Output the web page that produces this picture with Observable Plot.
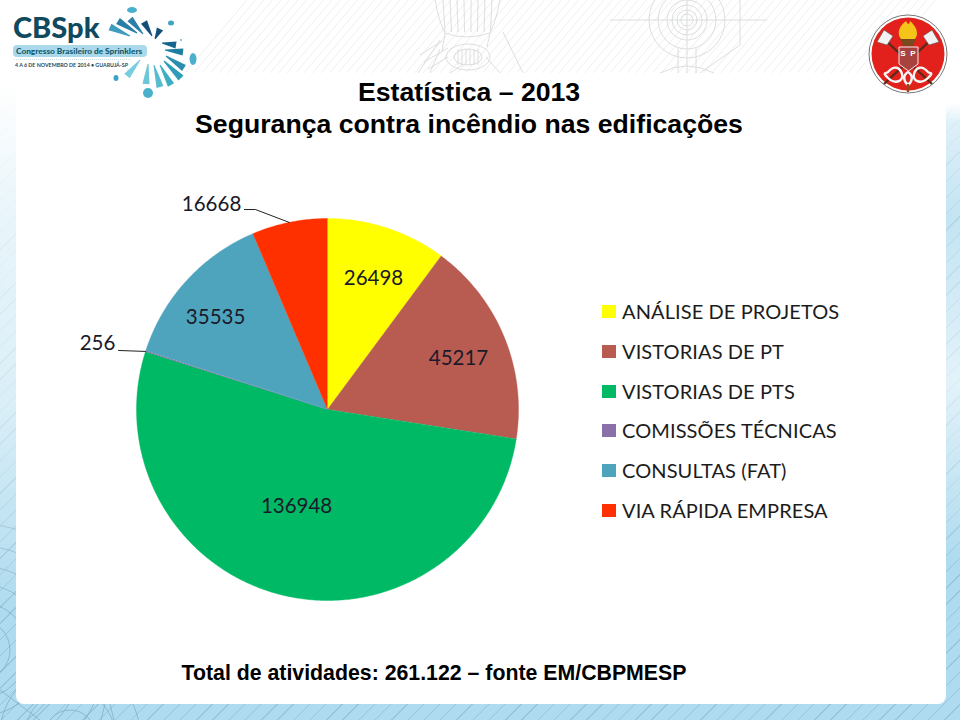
<!DOCTYPE html>
<html lang="pt-BR">
<head>
<meta charset="utf-8">
<title>Estatística 2013</title>
<script src="https://cdn.jsdelivr.net/npm/d3@7"></script>
<script src="https://cdn.jsdelivr.net/npm/@observablehq/plot@0.6"></script>
<style>
html,body{margin:0;padding:0;background:#fff}
#page{position:relative;width:960px;height:720px;overflow:hidden;
  background:repeating-linear-gradient(-45deg,#aedbef 0 10.500px,#97c6dc 10.500px 11.500px)}
#back,#decor,#chart svg{position:absolute;left:0;top:0}
#back,#decor{width:960px;height:720px}
#head{position:absolute;left:0;top:0;width:960px;height:84px;background:#fff}
#fadeL{position:absolute;left:0;top:84px;width:16px;height:530px;background:linear-gradient(180deg,#fff 0,rgba(255,255,255,.72) 25%,rgba(255,255,255,.55) 60%,rgba(255,255,255,0) 100%)}
#fadeR{position:absolute;left:946px;top:84px;width:14px;height:480px;background:linear-gradient(180deg,#fff 0,#fff 4%,rgba(255,255,255,.6) 8%,rgba(255,255,255,.25) 28%,rgba(255,255,255,.65) 62%,rgba(255,255,255,0) 100%)}
#panel{position:absolute;left:16px;top:70px;width:930px;height:634px;background:#fff;border-radius:0 0 8px 8px}
.t{position:absolute;left:0;font:bold 26.650px "Liberation Sans",Arial,sans-serif;color:#000;white-space:nowrap;text-align:center;line-height:32px}
#legend{position:absolute;left:602px;top:291px;font:20px Lato,sans-serif;color:#1c1c1c}
#legend div{height:39.8px;line-height:40px;white-space:nowrap;position:relative;padding-left:20px;letter-spacing:.1px}
#legend i{position:absolute;left:0;top:14px;width:14px;height:13px}
</style>
</head>
<body>
<div id="page">
  <svg id="back" viewBox="0 0 960 720" xmlns="http://www.w3.org/2000/svg"></svg>
  <div id="head"></div>
  <div id="fadeL"></div>
  <div id="fadeR"></div>
  <div id="panel"></div>
  <svg id="decor" viewBox="0 0 960 720" xmlns="http://www.w3.org/2000/svg"></svg>
  <div id="chart"></div>
  <div class="t" style="left:358px;top:76px;width:222px">Estatística – 2013</div>
  <div class="t" style="left:195px;top:108px;width:548px">Segurança contra incêndio nas edificações</div>
  <div class="t" id="foot" style="left:181px;top:657px;width:506px;font-size:21.300px">Total de atividades: 261.122 – fonte EM/CBPMESP</div>
  <div id="legend"></div>
</div>
<script>
// ---- chart data ----
const categories = ["ANÁLISE DE PROJETOS","VISTORIAS DE PT","VISTORIAS DE PTS","COMISSÕES TÉCNICAS","CONSULTAS (FAT)","VIA RÁPIDA EMPRESA"];
const values = [26498,45217,136948,256,35535,16668];
const colors = ["#ffff00","#b85c52","#00b964","#8a6fa8","#4fa4bd","#ff3000"];

// ---- layout, in pie radii from the centre ----
const labelX = [0.241,0.686,-0.162,-1.204,-0.586,-0.607];
const labelY = [0.686,0.267,-0.508,0.346,0.482,1.073];
const leaders = [
  {slice:"VIA RÁPIDA EMPRESA",x:-0.435,y:1.047},
  {slice:"VIA RÁPIDA EMPRESA",x:-0.377,y:1.047},
  {slice:"VIA RÁPIDA EMPRESA",x:-0.199,y:0.979},
  {slice:"COMISSÕES TÉCNICAS",x:-1.094,y:0.309},
  {slice:"COMISSÕES TÉCNICAS",x:-0.953,y:0.304}
];
const cx = 327, cy = 409, r = 191;

// slice outlines from the values
const total = d3.sum(values);
const rows = [];
let cum = 0;
values.forEach((v,i)=>{
  const a0 = cum/total*2*Math.PI, a1 = (cum+v)/total*2*Math.PI;
  rows.push({cat:categories[i],x:0,y:0});
  const n = Math.max(2,Math.ceil((a1-a0)/0.01));
  for(let k=0;k<=n;k++){
    const a = a0+(a1-a0)*k/n;
    rows.push({cat:categories[i],x:Math.sin(a),y:Math.cos(a)});
  }
  cum += v;
});
const labels = values.map((v,i)=>({text:String(v),x:labelX[i],y:labelY[i]}));

const chart = Plot.plot({
  width:960,height:720,margin:0,
  style:{background:"transparent",overflow:"visible"},
  x:{domain:[-cx/r,(960-cx)/r],range:[0,960],axis:null},
  y:{domain:[cy/r,-(720-cy)/r],range:[0,720],axis:null},
  color:{domain:categories,range:colors},
  marks:[
    Plot.line(rows,{x:"x",y:"y",z:"cat",fill:"cat",stroke:"cat",strokeWidth:0.4,curve:"linear"}),
    Plot.line(leaders,{x:"x",y:"y",z:"slice",stroke:"#222",strokeWidth:1}),
    Plot.text(labels,{x:"x",y:"y",text:"text",fill:"#1a1a2a",fontSize:20.500,fontFamily:"Lato, sans-serif",textAnchor:"middle",lineAnchor:"middle"})
  ]
});
document.getElementById("chart").appendChild(chart);

// ---- HTML legend ----
const lg = document.getElementById("legend");
categories.forEach((c,i)=>{
  const d = document.createElement("div");
  const sw = document.createElement("i");
  sw.style.background = colors[i];
  d.appendChild(sw);
  d.appendChild(document.createTextNode(c));
  lg.appendChild(d);
});

// ---- decorative page furniture (not chart data) ----
const Bk = d3.select("#back");
const bl = Bk.append("g").attr("fill","none").attr("stroke","#7fa9bd").attr("stroke-width",0.7);
[30,48,66,84,104,126].forEach(q=>bl.append("circle").attr("cx",-20).attr("cy",650).attr("r",q));
[25,45,70].forEach(q=>bl.append("circle").attr("cx",70).attr("cy",735).attr("r",q));
bl.append("path").attr("d","M105 704l-4 16M110 704l4 16M0 690l40 30");

const S = d3.select("#decor");
// faint hatching and technical drawing in the header
const hatch = S.append("g").attr("stroke","#e9ebed").attr("stroke-width",0.8);
for(let x=185;x<880;x+=8.500) hatch.append("line").attr("x1",x).attr("y1",73).attr("x2",x+62).attr("y2",0);
const g = S.append("g").attr("fill","none").attr("stroke","#d4d6d8").attr("stroke-width",0.8);
[6,10,15,20,29,38].forEach(q=>g.append("circle").attr("cx",687).attr("cy",20).attr("r",q));
g.append("path").attr("d","M610 20H767M687 0V73M678 48V73M696 48V73M740 0V45L700 73M660 73q27-14 54 0");
g.append("ellipse").attr("cx",468).attr("cy",57).attr("rx",22).attr("ry",13);
g.append("ellipse").attr("cx",468).attr("cy",57).attr("rx",14).attr("ry",8);
g.append("path").attr("d","M435 0q4 22 10 33q20 8 45 0q6-12 10-33M445 33l-3 18M490 33l-3 14M503 32l20 41M440 40l-22 33M430 73l10-24M450 73l12-8M500 73l-14-16");
for(let i=0;i<8;i++){
  const x = 443+i*7;
  g.append("path").attr("d",`M${x} 0L${x+(i-4)*-0.500} 32`);
}
for(let i=0;i<6;i++) g.append("line").attr("x1",458+i*4).attr("y1",49).attr("x2",458+i*4).attr("y2",65);
g.append("path").attr("d","M420 55l22-14M424 62l24-14M428 69l20-12");

// CBSpk logo
const L = S.append("g");
L.append("text").attr("x",13).attr("y",38).attr("font-family","Lato, sans-serif").attr("font-weight",900).attr("font-size",29).attr("fill","#0f4a5e").text("CBSpk");
L.append("rect").attr("x",13).attr("y",45).attr("width",134).attr("height",12).attr("rx",4).attr("fill","#a9d9ea");
L.append("text").attr("x",16).attr("y",54).attr("font-family","Lato, sans-serif").attr("font-weight",900).attr("font-size",8.300).attr("fill","#125a70").text("Congresso Brasileiro de Sprinklers");
L.append("text").attr("x",15).attr("y",67).attr("font-family","Lato, sans-serif").attr("font-weight",700).attr("font-size",5.300).attr("fill","#1f4a5a").text("4 A 6 DE NOVEMBRO DE 2014 • GUARUJÁ-SP");
L.append("line").attr("x1",14).attr("x2",132).attr("y1",59.500).attr("y2",59.500).attr("stroke","#9bbcc8").attr("stroke-width",.5).attr("stroke-dasharray","1 1");
const wedges = [
  [110,27,130,36,"#3f9cbe"],[118,21,137,33,"#2a7ea6"],[130,19,143,34,"#2b7fa8"],[144,22,152,36,"#154f78"],
  [160,29,155,39,"#154f78"],[176,45,162,43,"#15658f"],[183,52,165,50,"#1d7ea0"],[184,68,166,56,"#2a8fae"],
  [181,78,164,61,"#2f9db8"],[171,85,160,65,"#3eaec4"],[160,87,154,65,"#56bcd0"],[146,84,148,64,"#6cc6d8"],[127,76,140,60,"#79cde0"]
];
wedges.forEach(([ox,oy,ix,iy,c])=>{
  const dx = ox-ix, dy = oy-iy, h = Math.hypot(dx,dy), nx = -dy/h, ny = dx/h, w = 3.500;
  const pts = [[ix+nx*.5,iy+ny*.5],[ox+nx*w,oy+ny*w],[ox-nx*w,oy-ny*w],[ix-nx*.5,iy-ny*.5]];
  L.append("polygon").attr("points",pts.map(p=>p.map(v=>v.toFixed(1)).join(",")).join(" ")).attr("fill",c);
});
[[132,10,5,3],[171,23,3,2.500],[193,59,3.500,6],[116,78,2.500,3],[148,93,5,5],[181,40,.8,1]].forEach(([x,y,a,b],i)=>
  L.append("ellipse").attr("cx",x).attr("cy",y).attr("rx",a).attr("ry",b).attr("fill",i%2?"#3ea3c4":"#4bb0cc"));

// fire brigade seal
const B = S.append("g");
B.append("circle").attr("cx",908).attr("cy",54).attr("r",39).attr("fill","#fff").attr("stroke","#777").attr("stroke-width",1);
B.append("circle").attr("cx",908).attr("cy",54).attr("r",36.500).attr("fill","#e2211c");
B.append("path").attr("d","M906 21c-8 6-9 13-5 18h14c4-5 2-12-5-18-1 4-2 4-4 0Z").attr("fill","#f4c419");
B.append("path").attr("d","M900 39h16l-3 7h-10Z").attr("fill","#7a4a1e");
B.append("path").attr("d","M882 37L932 84M934 37L884 84").attr("stroke","#5b2a1a").attr("stroke-width",2.400);
B.append("path").attr("d","M884 30l-7 12 10 3 6-9ZM932 30l7 12-10 3-6-9Z").attr("fill","#f2f2f2").attr("stroke","#555").attr("stroke-width",.6);
B.append("path").attr("d","M899 47h19v17l-9.500 7-9.500-7Z").attr("fill","#a7423f").attr("stroke","#eee").attr("stroke-width",1);
[["S",903],["P",913]].forEach(([t,x])=>B.append("text").attr("x",x).attr("y",56).attr("text-anchor","middle").attr("font-family","Liberation Sans").attr("font-weight",700).attr("font-size",8).attr("fill","#fff").text(t));
B.append("path").attr("d","M888 72c6-7 12-5 14 2s-7 11-14 4-1-4 0-6ZM928 72c-6-7-12-5-14 2s7 11 14 4 1-4 0-6ZM908 72c-5 3-5 9 0 13 5-4 5-10 0-13Z").attr("fill","none").attr("stroke","#f5f5f5").attr("stroke-width",2.400);
B.append("path").attr("d","M908 84v8").attr("stroke","#8a4b1a").attr("stroke-width",2.400);
</script>
</body>
</html>
